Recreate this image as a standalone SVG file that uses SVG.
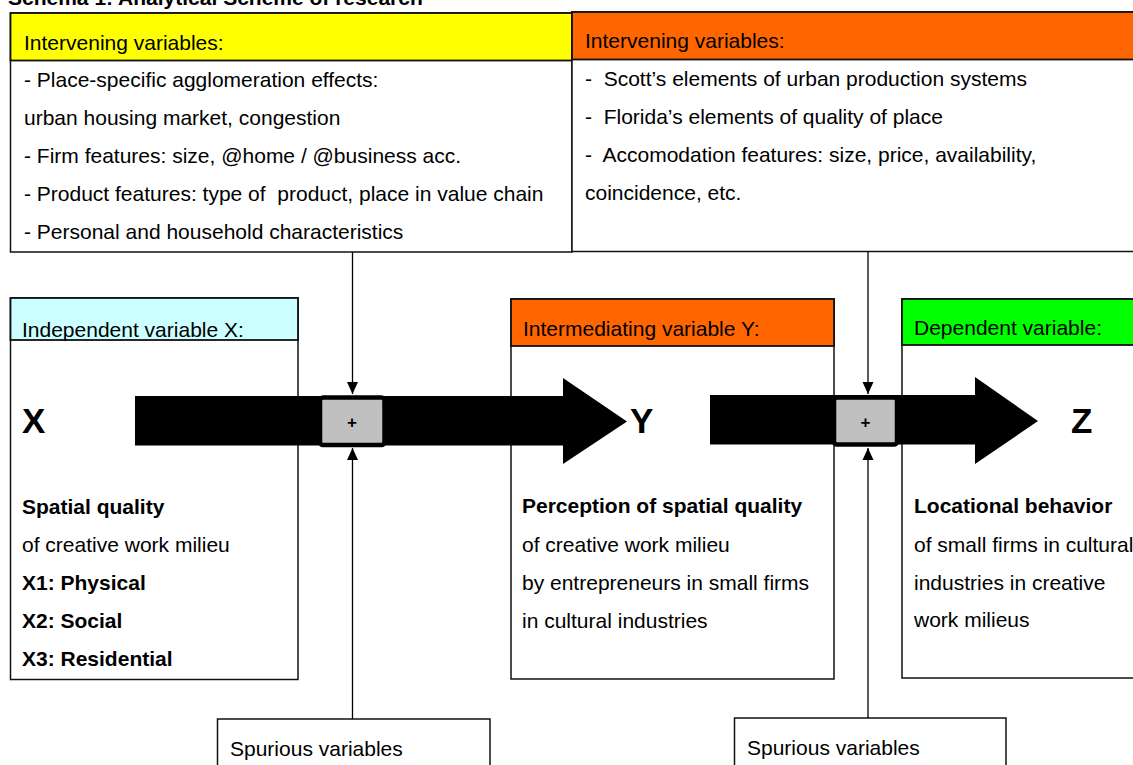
<svg xmlns="http://www.w3.org/2000/svg" width="1133" height="765" viewBox="0 0 1133 765">
<style>
text{font-family:"Liberation Sans",Arial,sans-serif;font-size:21px;fill:#000}
.b{font-weight:bold}
.big{font-weight:bold;font-size:35px}
.box{fill:#fff;stroke:#111;stroke-width:1.5}
.hd{stroke:#111;stroke-width:1.8}
.ln{stroke:#000;stroke-width:1.3;fill:none}
.plus{fill:#c0c0c0;stroke:#000;stroke-width:4.5}
.arr{fill:#000}
</style>
<defs>
<marker id="ah" viewBox="0 0 12 12" refX="12" refY="6" markerWidth="12" markerHeight="12" markerUnits="userSpaceOnUse" orient="auto">
<path d="M0,0.5 L12,6 L0,11.5 Z" fill="#000"/>
</marker>
</defs>
<text class="b" x="8" y="5">Schema 1: Analytical Scheme of research</text>

<g id="intervening-left">
<rect class="box" x="10.5" y="13" width="561.5" height="239"/>
<rect class="hd" x="10.5" y="13" width="561.5" height="47.5" fill="#ffff00"/>
<text x="24" y="50">Intervening variables:</text>
<text x="24" y="87">- Place-specific agglomeration effects:</text>
<text x="24" y="125">urban housing market, congestion</text>
<text x="24" y="163">- Firm features: size, @home / @business acc.</text>
<text x="24" y="201">- Product features: type of&#160; product, place in value chain</text>
<text x="24" y="239">- Personal and household characteristics</text>
</g>

<g id="intervening-right">
<rect class="box" x="572" y="12" width="580" height="239.5"/>
<rect class="hd" x="572" y="12" width="580" height="47.5" fill="#ff6600"/>
<text x="585" y="48">Intervening variables:</text>
<text x="585" y="86">-&#160; Scott’s elements of urban production systems</text>
<text x="585" y="124">-&#160; Florida’s elements of quality of place</text>
<text x="585" y="162">-&#160; Accomodation features: size, price, availability,</text>
<text x="585" y="200">coincidence, etc.</text>
</g>

<g id="independent-x">
<rect class="box" x="10.5" y="298" width="287.5" height="381.5"/>
<rect class="hd" x="10.5" y="298" width="287.5" height="42" fill="#ccffff"/>
<text x="22" y="337">Independent variable X:</text>
<text class="big" x="22" y="433">X</text>
<text class="b" x="22" y="514">Spatial quality</text>
<text x="22" y="552">of creative work milieu</text>
<text class="b" x="22" y="590">X1: Physical</text>
<text class="b" x="22" y="628">X2: Social</text>
<text class="b" x="22" y="666">X3: Residential</text>
</g>

<g id="intermediating-y">
<rect class="box" x="511" y="299" width="323" height="380"/>
<rect class="hd" x="511" y="299" width="323" height="47" fill="#ff6600"/>
<text x="523" y="336">Intermediating variable Y:</text>
<text class="big" x="630" y="433">Y</text>
<text class="b" x="522" y="513">Perception of spatial quality</text>
<text x="522" y="552">of creative work milieu</text>
<text x="522" y="590">by entrepreneurs in small firms</text>
<text x="522" y="628">in cultural industries</text>
</g>

<g id="dependent-z">
<rect class="box" x="902" y="299" width="260" height="379"/>
<rect class="hd" x="902" y="299" width="260" height="46" fill="#00ff00"/>
<text x="914" y="335">Dependent variable:</text>
<text class="big" x="1071" y="433">Z</text>
<text class="b" x="914" y="513">Locational behavior</text>
<text x="914" y="552">of small firms in cultural</text>
<text x="914" y="590">industries in creative</text>
<text x="914" y="627">work milieus</text>
</g>

<g id="spurious-1">
<rect class="box" x="217.5" y="719" width="272.5" height="60"/>
<text x="230" y="756">Spurious variables</text>
</g>

<g id="spurious-2">
<rect class="box" x="734.5" y="718" width="271.5" height="60"/>
<text x="747" y="755">Spurious variables</text>
</g>

<g id="connectors">
<path class="arr" d="M135,396 H563 V378 L627,421.5 L563,464 V445.5 H135 Z"/>
<path class="arr" d="M710,395 H975 V377 L1038,421 L975,464 V444.5 H710 Z"/>
<line class="ln" x1="352.5" y1="252" x2="352.5" y2="394" marker-end="url(#ah)"/>
<line class="ln" x1="352.5" y1="719" x2="352.5" y2="448" marker-end="url(#ah)"/>
<line class="ln" x1="868" y1="251.5" x2="868" y2="394" marker-end="url(#ah)"/>
<line class="ln" x1="868" y1="718" x2="868" y2="448" marker-end="url(#ah)"/>
</g>

<g id="plus-1">
<rect class="plus" x="320" y="397.5" width="64.5" height="47.5" rx="3"/>
<text class="b" x="352" y="428" text-anchor="middle" style="font-size:17px">+</text>
</g>
<g id="plus-2">
<rect class="plus" x="834" y="397.5" width="63" height="47" rx="3"/>
<text class="b" x="865.5" y="428" text-anchor="middle" style="font-size:17px">+</text>
</g>
</svg>
